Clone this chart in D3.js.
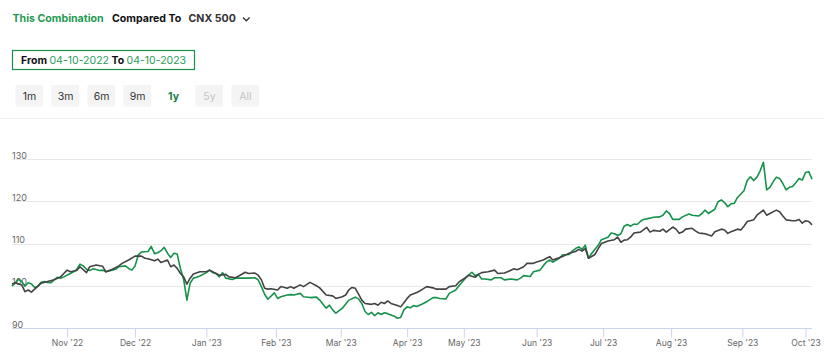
<!DOCTYPE html>
<html>
<head>
<meta charset="utf-8">
<script src="https://cdn.jsdelivr.net/npm/d3@7/dist/d3.min.js"></script>
<style>
  html, body { margin: 0; padding: 0; background: #fff; }
  svg { display: block; font-family: Inter, "Noto Sans", sans-serif; }
</style>
</head>
<body>
<svg id="chart" width="824" height="362"></svg>
<script>
// ---- DATA (trading-day index from 04-10-2022, indexed value) ----
const comboDays = [0,2,3,4,5,6,7,8,9,10,11,12,13,14,15,16,18,19,20,21,22,23,24,25,27,28,29,30,32,33,35,36,37,38,39,40,42,43,44,45,46,47,48,49,50,51,52,53,54,55,56,57,58,60,61,62,63,64,65,66,68,69,71,73,75,76,77,78,79,81,82,83,85,86,87,89,90,92,94,95,97,98,99,100,102,103,104,106,107,108,109,110,111,112,113,114,115,116,118,119,120,121,122,123,124,125,127,128,130,131,132,134,135,137,138,140,141,142,143,144,145,146,148,149,151,152,154,156,157,158,160,161,163,164,165,166,167,169,170,172,173,174,175,176,177,178,179,181,182,184,185,186,187,188,189,190,191,192,193,194,195,197,198,200,201,202,203,204,206,207,209,210,212,213,214,215,217,218,219,220,221,222,223,224,226,227,228,229,230,231,232,233,234,235,236,237,238,239,240,241,242,243,244,245,246,247];
const comboValues = [99.9,101.5,101.0,99.9,100.7,100.4,99.6,99.9,100.8,101.0,100.8,100.7,101.4,102.0,101.8,102.1,102.9,103.3,103.9,105.1,104.7,103.9,103.6,104.0,103.6,103.7,103.3,103.5,103.9,104.5,104.7,104.1,103.7,104.7,107.3,108.0,108.1,109.3,107.6,107.8,108.3,109.1,107.7,106.7,107.7,107.5,104.1,101.5,96.6,100.6,101.8,102.0,102.3,103.1,103.7,103.1,102.9,102.1,103.1,101.8,101.5,101.8,101.8,101.8,101.9,101.4,99.8,98.0,96.8,98.3,97.0,97.4,97.8,97.9,97.8,98.2,97.4,97.2,97.3,96.6,94.7,95.4,94.3,93.5,94.7,95.6,96.6,97.3,96.9,95.8,93.9,93.2,93.7,92.9,93.6,93.2,93.6,93.4,92.8,92.3,92.5,94.3,95.0,94.8,95.3,95.1,95.8,96.2,97.2,97.2,97.0,96.9,98.2,99.0,100.0,101.8,102.5,103.2,102.4,102.7,101.6,101.6,101.4,101.9,101.9,101.4,101.6,101.4,101.8,102.4,102.2,103.3,103.7,104.7,105.6,106.1,105.6,106.5,107.3,107.4,108.2,108.8,109.2,108.6,109.6,106.5,107.7,109.6,110.9,111.5,112.5,112.3,111.9,112.3,114.1,114.5,114.1,114.6,114.5,115.2,115.7,116.0,116.2,116.3,116.7,117.7,117.1,115.7,115.7,116.3,117.0,116.7,116.5,117.1,117.9,117.1,118.1,119.9,120.3,119.7,118.7,119.4,119.5,120.9,122.5,124.9,125.8,124.9,125.7,127.2,129.2,122.7,123.3,124.6,125.7,125.4,124.2,122.7,123.3,123.5,124.4,125.4,125.0,126.8,127.0,125.2];

const cnxDays = [0,1,3,4,5,6,7,9,11,13,15,16,17,18,20,21,23,24,26,28,29,31,33,34,36,38,40,41,42,44,45,46,48,49,50,51,52,53,54,55,56,58,60,61,63,64,66,67,69,70,72,73,75,76,77,78,79,80,82,83,85,86,87,89,90,92,94,95,97,99,100,102,103,104,105,106,107,108,109,111,112,113,114,115,116,117,119,120,121,122,123,125,126,128,130,131,134,135,137,138,140,141,143,144,145,147,149,150,152,153,155,156,158,159,161,162,164,165,166,167,168,170,171,172,174,175,176,177,178,180,181,182,184,186,187,188,189,190,191,192,194,196,197,198,200,201,202,204,205,206,207,208,210,211,212,213,214,216,217,219,220,221,222,224,225,226,227,229,230,232,233,234,236,237,238,239,241,242,243,244,245,246,247];
const cnxValues = [100.4,100.7,100.2,98.6,99.0,98.5,99.2,100.6,101.0,101.4,102.1,102.9,103.7,103.3,103.6,104.5,103.1,104.5,104.9,104.6,103.3,103.9,104.7,105.3,106.1,107.0,107.0,106.5,106.4,105.9,106.3,105.5,106.1,104.5,104.9,104.1,102.9,102.1,100.4,101.8,102.8,103.3,103.3,103.7,102.9,102.5,102.7,102.1,101.9,102.3,103.2,102.9,103.0,102.5,101.4,99.4,99.2,99.3,99.0,99.8,99.4,99.8,99.4,100.2,99.8,100.8,100.0,99.5,97.8,97.6,97.0,97.4,97.8,99.0,99.6,99.4,98.0,96.6,95.8,95.6,95.8,95.4,96.1,95.8,96.4,95.8,95.3,95.0,96.0,97.0,97.8,98.4,98.8,99.8,99.5,99.2,99.2,99.8,100.0,100.9,101.9,102.5,102.0,102.7,103.1,103.3,103.7,102.9,103.0,103.3,104.0,103.8,104.5,105.3,105.3,105.6,106.1,106.5,106.9,106.1,106.4,106.9,107.3,107.7,108.1,108.6,108.2,108.8,106.5,107.4,108.8,110.0,110.6,110.9,111.5,110.3,110.8,110.9,111.5,112.5,112.7,113.8,112.7,113.1,112.9,113.4,112.7,113.9,113.4,112.4,112.7,113.4,113.6,113.0,112.5,112.4,112.3,111.8,112.8,113.4,113.2,112.4,112.8,113.4,113.2,114.1,115.2,115.6,116.7,117.9,116.7,117.1,117.9,117.5,116.5,115.6,115.4,115.4,115.7,114.8,115.4,115.2,114.4];

const monthTickDays = [17,38,60,81.5,101.5,122,139.5,162,182.5,203.5,225.5,245];
const monthTickLabels = ["Nov '22","Dec '22","Jan '23","Feb '23","Mar '23","Apr '23","May '23","Jun '23","Jul '23","Aug '23","Sep '23","Oct '23"];
const valueTicks = [90,100,110,120,130];
const rangeButtons = ["1m","3m","6m","9m","1y","5y","All"];
const activeButton = "1y";
const disabledButtons = ["5y","All"];
const fromDate = "04-10-2022";
const toDate = "04-10-2023";
const benchmarkName = "CNX 500";

// ---- DRAW ----
const GREEN = "#16924a";
const DARK = "#434343";
const svg = d3.select("#chart");

// Header
const hdr = svg.append("g").attr("font-size", 10.6).attr("font-weight", 700);
hdr.append("text").attr("x", 12.5).attr("y", 22).attr("fill", "#1f9a52").text("This Combination");
hdr.append("text").attr("x", 112).attr("y", 22).attr("fill", "#111").text("Compared To");
hdr.append("text").attr("x", 188.5).attr("y", 22).attr("fill", "#333").text(benchmarkName);
svg.append("path").attr("d", "M243,17.5 L246.3,20.8 L249.6,17.5")
  .attr("fill", "none").attr("stroke", "#333").attr("stroke-width", 1.3);

// Date box
svg.append("rect").attr("x", 12.5).attr("y", 50.5).attr("width", 182).attr("height", 19)
  .attr("fill", "#fff").attr("stroke", GREEN).attr("stroke-width", 1.2);
const dt = svg.append("text").attr("x", 21).attr("y", 64).attr("font-size", 10.5);
dt.append("tspan").attr("font-weight", 700).attr("fill", "#111").text("From ");
dt.append("tspan").attr("fill", "#2a9d5c").text(fromDate);
dt.append("tspan").attr("font-weight", 700).attr("fill", "#111").text(" To ");
dt.append("tspan").attr("fill", "#2a9d5c").text(toDate);

// Range buttons
const btn = svg.append("g").selectAll("g").data(rangeButtons).join("g")
  .attr("transform", (d, i) => `translate(${15.5 + i * 36},85)`);
btn.append("rect").attr("width", 27.5).attr("height", 21.5).attr("rx", 1)
  .attr("fill", d => d === activeButton ? "#fff" : "#f4f4f4");
btn.append("text").attr("x", 14).attr("y", 15).attr("text-anchor", "middle")
  .attr("font-size", 10.5)
  .attr("font-weight", d => d === activeButton ? 700 : 400)
  .attr("fill", d => d === activeButton ? "#17813f" : (disabledButtons.includes(d) ? "#c4c4c4" : "#333"))
  .text(d => d);

// separator
svg.append("line").attr("x1", 0).attr("x2", 824).attr("y1", 118.5).attr("y2", 118.5)
  .attr("stroke", "#f2f2f2");

// Scales
const x = d3.scaleLinear().domain([0, 247]).range([12, 812]);
const y = d3.scaleLinear().domain([90, 130]).range([328, 159]);

// Gridlines + labels
const grid = svg.append("g");
grid.selectAll("line").data(valueTicks.filter(v => v !== 90)).join("line")
  .attr("x1", 12).attr("x2", 812)
  .attr("y1", d => Math.round(y(d)) + 0.5).attr("y2", d => Math.round(y(d)) + 0.5)
  .attr("stroke", "#e8e8e8").attr("stroke-width", 1);
grid.selectAll("text").data(valueTicks).join("text")
  .attr("x", 12).attr("y", d => y(d) - 0.5)
  .attr("font-size", 9).attr("fill", "#666").text(d => d);

// X axis
const xAxis = d3.axisBottom(x).tickValues(monthTickDays)
  .tickFormat((d, i) => monthTickLabels[i]).tickSize(9).tickSizeOuter(0);
const ax = svg.append("g").attr("transform", "translate(0,328.5)").call(xAxis);
ax.select(".domain").attr("stroke", "#ccd6eb").attr("d", "M12,0H812");
ax.selectAll(".tick line").attr("stroke", "#ccd6eb");
ax.selectAll(".tick text").attr("font-family", "Inter, sans-serif").attr("font-size", 8.5)
  .attr("fill", "#666").attr("y", 11).attr("dy", "0.71em");

// Lines
const line = d3.line().x(d => x(d[0])).y(d => y(d[1])).curve(d3.curveLinear);
const cnx = d3.zip(cnxDays, cnxValues);
const combo = d3.zip(comboDays, comboValues);
svg.append("path").datum(combo).attr("d", line).attr("fill", "none")
  .attr("stroke", GREEN).attr("stroke-width", 1.6).attr("stroke-linejoin", "round");
svg.append("path").datum(cnx).attr("d", line).attr("fill", "none")
  .attr("stroke", DARK).attr("stroke-width", 1.6).attr("stroke-linejoin", "round");
</script>
</body>
</html>
